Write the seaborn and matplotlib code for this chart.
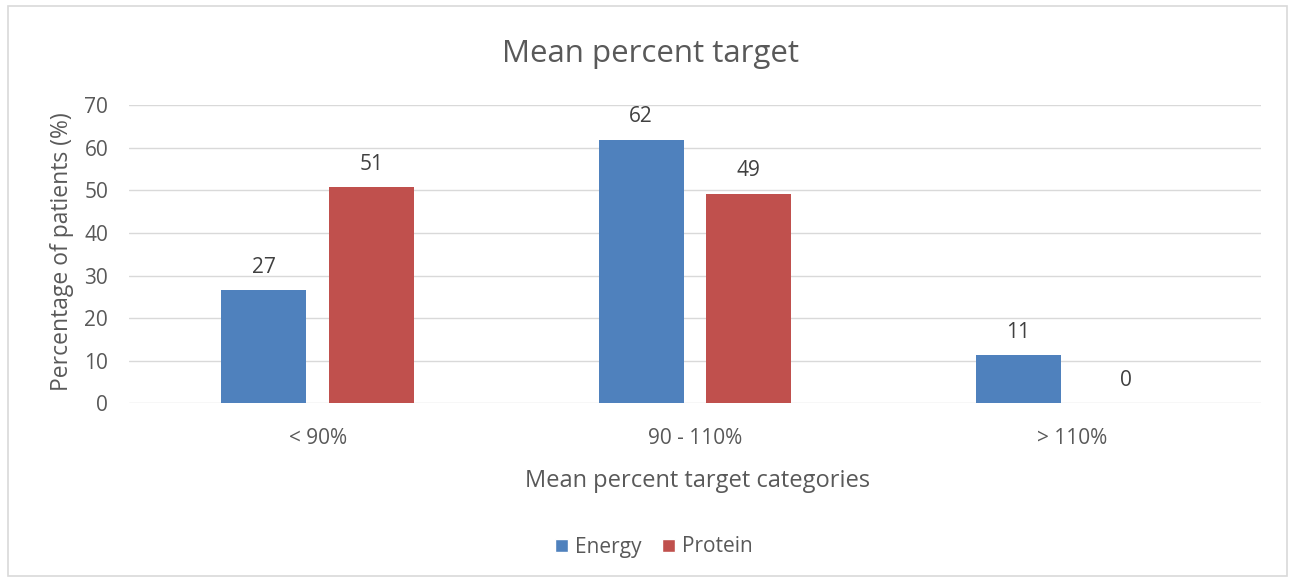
import matplotlib
matplotlib.use("Agg")
import matplotlib.pyplot as plt
from matplotlib.patches import Rectangle
import seaborn as sns
import pandas as pd

# Chart data
categories = ["< 90%", "90 - 110%", "> 110%"]
series_names = ["Energy", "Protein"]
energy = [26.6, 61.9, 11.3]
protein = [50.7, 49.2, 0.0]
colors = ["#4F81BD", "#C0504D"]
yticks = [0, 10, 20, 30, 40, 50, 60, 70]

df = pd.DataFrame({
    "category": categories * 2,
    "series": [series_names[0]] * 3 + [series_names[1]] * 3,
    "value": energy + protein,
})

sns.set_theme(style="white")
plt.rcParams["font.family"] = ["Open Sans", "DejaVu Sans"]
text_color = "#595959"
grid_color = "#d9d9d9"
W, H = 1295, 578

fig = plt.figure(figsize=(W / 100, H / 100), dpi=100)
ax = fig.add_axes([0.0996, 0.3023, 0.9737 - 0.0996, 0.8178 - 0.3023])

sns.barplot(data=df, x="category", y="value", hue="series", order=categories,
            hue_order=series_names, palette=colors, width=0.57, gap=0.21,
            saturation=1, edgecolor="none", legend=False, ax=ax)

ax.set_ylim(0, 70)
ax.set_xlim(-0.5, 2.5)
ax.set_yticks(yticks)
ax.yaxis.grid(True, color=grid_color, linewidth=1)
ax.set_axisbelow(True)
for s in ax.spines.values():
    s.set_visible(False)
ax.tick_params(axis="both", length=0, labelsize=15, colors=text_color)
ax.tick_params(axis="x", pad=18)
ax.tick_params(axis="y", pad=15)
ax.set_xlabel("")
ax.set_ylabel("")

for cont in ax.containers:
    ax.bar_label(cont, fmt="%.0f", padding=9, fontsize=15, color="#404040")

fig.text(698 / W, 1 - 487 / H, "Mean percent target categories", fontsize=17,
         color=text_color, ha="center", va="baseline")
fig.text(62 / W, 1 - 252 / H, "Percentage of patients (%)", fontsize=16.5,
         color=text_color, ha="center", va="center", rotation=90)
fig.text(650 / W, 1 - 62.3 / H, "Mean percent target", fontsize=22.5,
         color=text_color, ha="center", va="baseline")

handles = [Rectangle((0, 0), 1, 1, facecolor=c) for c in colors]
fig.legend(handles, series_names, loc="center", bbox_to_anchor=(654 / W, 1 - 547 / H), ncol=2,
           frameon=False, fontsize=15, handlelength=0.6, handleheight=0.6,
           handletextpad=0.35, columnspacing=1.0, labelcolor=text_color)

# Light outer frame around the chart area
fig.patches.append(Rectangle((0.006, 0.004), 0.988, 0.985, transform=fig.transFigure,
                             fill=False, edgecolor=grid_color, linewidth=1.2))

fig.savefig("out.png", dpi=100)
